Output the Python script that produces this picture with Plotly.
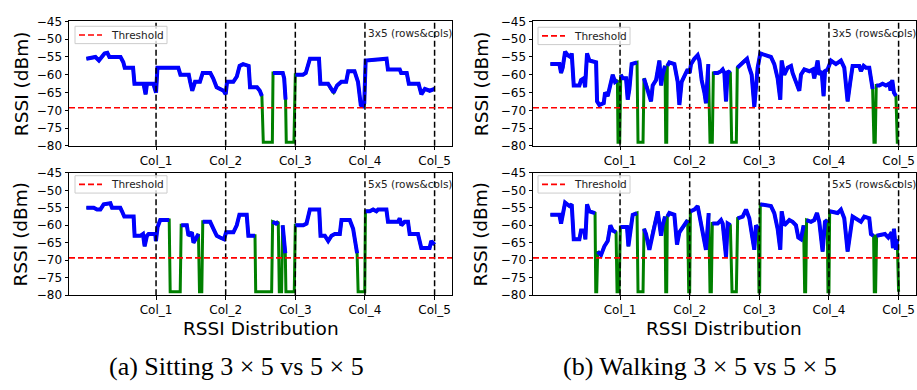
import plotly.graph_objects as go

# ---------------- data (x in column units, RSSI in dBm) ----------------
THRESHOLD = -69.3
COL_TICKS = [1, 2, 3, 4, 5]
COL_LABELS = ["Col_1", "Col_2", "Col_3", "Col_4", "Col_5"]
Y_TICKS = [-80, -75, -70, -65, -60, -55, -50, -45]

sit_3x5 = [(0.00, -55.5), (0.13, -55), (0.18, -56), (0.22, -55), (0.26, -54), (0.30, -53.8),
           (0.33, -55), (0.49, -55), (0.53, -56.5), (0.55, -58), (0.67, -58), (0.69, -62.5),
           (0.82, -62.5), (0.85, -65.5), (0.87, -62.5), (0.96, -62.5), (1.00, -65), (1.02, -58),
           (1.32, -58), (1.35, -60), (1.47, -60), (1.49, -62), (1.52, -64.5), (1.56, -62),
           (1.63, -62), (1.67, -59.5), (1.78, -59.5), (1.82, -61), (1.87, -63.5), (1.97, -64.5),
           (2.00, -65.5), (2.02, -62), (2.11, -62), (2.16, -60.5), (2.20, -57.5), (2.25, -57),
           (2.33, -57.5), (2.35, -63.5), (2.45, -63.5), (2.49, -64.5), (2.52, -66), (2.54, -79),
           (2.67, -79), (2.68, -59.5), (2.82, -59.5), (2.84, -61), (2.86, -67), (2.87, -79),
           (2.98, -79), (3.00, -60), (3.11, -60), (3.15, -59.5), (3.21, -55.5), (3.34, -55.5),
           (3.36, -62.5), (3.47, -62.5), (3.51, -64), (3.55, -65), (3.60, -63), (3.66, -62),
           (3.73, -62), (3.76, -59), (3.85, -59), (3.90, -62), (3.94, -68.5), (3.97, -68.8),
           (3.99, -68), (4.01, -56), (4.31, -55.5), (4.33, -58.5), (4.50, -58.5), (4.52, -59.5),
           (4.60, -59.5), (4.63, -62.5), (4.77, -62.5), (4.81, -65.5), (4.86, -64), (4.93, -64.5),
           (5.00, -64)]

sit_5x5 = [(0.00, -55), (0.105, -55), (0.153, -55.5), (0.20, -55.5), (0.248, -54), (0.344, -53.7),
           (0.368, -55), (0.487, -55), (0.511, -56), (0.544, -57.5), (0.678, -57.5), (0.692, -63),
           (0.774, -63), (0.812, -62.5), (0.836, -66), (0.869, -63), (0.893, -62.5), (0.989, -62.5),
           (0.998, -64.5), (1.022, -60.5), (1.06, -58.5), (1.189, -58.5), (1.203, -79), (1.347, -79),
           (1.361, -60), (1.442, -60), (1.466, -63), (1.514, -62), (1.538, -65), (1.585, -63.5),
           (1.609, -62.5), (1.624, -79), (1.657, -79), (1.671, -59), (1.777, -59), (1.824, -61),
           (1.872, -63), (1.92, -63.5), (1.977, -64), (2.006, -62), (2.111, -62), (2.159, -60),
           (2.197, -57), (2.302, -57), (2.326, -63), (2.421, -63), (2.431, -79), (2.66, -79),
           (2.674, -59), (2.722, -59.5), (2.755, -59), (2.77, -79), (2.803, -79), (2.818, -60),
           (2.856, -68), (2.865, -79), (2.985, -79), (3.00, -60), (3.114, -60), (3.161, -59.5),
           (3.209, -55.5), (3.343, -55.5), (3.362, -63), (3.424, -63), (3.472, -64.5), (3.52, -63),
           (3.567, -62.5), (3.639, -62.5), (3.663, -58.5), (3.782, -58.5), (3.83, -61), (3.887, -68),
           (3.902, -79), (3.997, -79), (4.007, -56), (4.069, -56), (4.117, -55.5), (4.164, -56),
           (4.188, -55.5), (4.308, -55.5), (4.331, -59), (4.475, -59), (4.499, -58), (4.523, -60),
           (4.57, -59), (4.618, -59), (4.642, -62.5), (4.761, -62.5), (4.809, -66.5), (4.928, -66.5),
           (4.952, -64.5), (5.00, -65.5)]

walk_3x5 = [(0.0, -57), (0.129, -57), (0.153, -59.5), (0.177, -58), (0.211, -53.5), (0.249, -54.5),
            (0.287, -55), (0.306, -54), (0.335, -63), (0.416, -63), (0.44, -61.5), (0.478, -61),
            (0.498, -63.5), (0.526, -54), (0.56, -56), (0.656, -56.5), (0.67, -67.5), (0.703, -68.5),
            (0.766, -68), (0.785, -65), (0.823, -66), (0.847, -64), (0.895, -60), (0.928, -62),
            (0.962, -61.5), (0.971, -79), (0.995, -79), (1.01, -60), (1.038, -61), (1.086, -61),
            (1.11, -67), (1.134, -64), (1.167, -57), (1.244, -56.5), (1.258, -79), (1.33, -79),
            (1.344, -61), (1.397, -64), (1.445, -67.5), (1.469, -63), (1.517, -61.5), (1.565, -56),
            (1.589, -63), (1.612, -60), (1.646, -57.5), (1.656, -79), (1.67, -79), (1.679, -57.5),
            (1.708, -56.5), (1.78, -57), (1.828, -62), (1.852, -68.5), (1.885, -62), (1.933, -60),
            (1.971, -58.5), (2.0, -59.5), (2.019, -57), (2.067, -55.5), (2.115, -54.5), (2.139, -56),
            (2.172, -61.5), (2.211, -65), (2.234, -68), (2.268, -57), (2.292, -79), (2.325, -79),
            (2.34, -59.5), (2.402, -59.5), (2.45, -59), (2.474, -58.5), (2.498, -59.5), (2.522, -67.5),
            (2.545, -59), (2.584, -59.5), (2.603, -79), (2.67, -79), (2.684, -58), (2.785, -56),
            (2.823, -55.5), (2.856, -58), (2.89, -60), (2.928, -69), (2.952, -64), (2.976, -58),
            (3.014, -54), (3.167, -55), (3.215, -57), (3.263, -61), (3.301, -67), (3.321, -56),
            (3.359, -60), (3.407, -58), (3.455, -57.5), (3.478, -59.5), (3.526, -62), (3.574, -64.5),
            (3.598, -60), (3.646, -58.5), (3.718, -59), (3.766, -58.5), (3.789, -61), (3.813, -59),
            (3.837, -56), (3.861, -60), (3.895, -59), (3.923, -66), (3.943, -59), (3.981, -58.5),
            (4.029, -56), (4.1, -57), (4.172, -56), (4.22, -58), (4.268, -67.5), (4.306, -62),
            (4.34, -57.5), (4.435, -57.5), (4.459, -59), (4.498, -57.5), (4.531, -58), (4.579, -58),
            (4.627, -64), (4.646, -79), (4.665, -79), (4.679, -63), (4.722, -63), (4.77, -62.5),
            (4.818, -63), (4.866, -62.5), (4.885, -64.5), (4.909, -61.5), (4.933, -65), (4.962, -66),
            (4.981, -79), (5.0, -79)]

walk_5x5 = [(0.0, -57), (0.129, -57), (0.153, -59.5), (0.211, -53.5), (0.273, -54.5), (0.306, -54),
            (0.335, -64), (0.416, -64), (0.44, -61.5), (0.488, -61.5), (0.502, -64), (0.526, -54),
            (0.56, -56), (0.641, -56.5), (0.651, -79), (0.665, -79), (0.679, -67.5), (0.727, -68.5),
            (0.775, -66), (0.823, -64.5), (0.861, -60), (0.895, -61.5), (0.943, -62), (0.957, -79),
            (0.986, -79), (1.005, -60.5), (1.1, -60.5), (1.12, -66), (1.158, -60), (1.182, -57),
            (1.244, -56.5), (1.258, -79), (1.33, -79), (1.344, -61), (1.373, -62.5), (1.421, -67),
            (1.469, -62), (1.541, -56), (1.589, -63), (1.612, -60), (1.646, -57.5), (1.656, -79),
            (1.67, -79), (1.679, -57.5), (1.708, -56.5), (1.78, -57), (1.818, -65.5), (1.852, -62),
            (1.923, -60), (1.971, -58.5), (1.986, -79), (2.0, -79), (2.01, -56), (2.067, -55.5),
            (2.115, -54.5), (2.163, -60), (2.211, -65), (2.234, -67), (2.273, -56.5), (2.292, -79),
            (2.311, -79), (2.325, -59.5), (2.402, -59.5), (2.45, -58.5), (2.474, -59.5), (2.522, -69),
            (2.545, -59.5), (2.584, -60), (2.608, -79), (2.67, -79), (2.689, -58), (2.761, -57.5),
            (2.809, -55.5), (2.856, -58), (2.904, -64), (2.928, -67), (2.952, -60), (2.986, -61),
            (2.995, -79), (3.005, -79), (3.014, -54), (3.167, -54.5), (3.215, -56.5), (3.263, -61),
            (3.301, -67), (3.321, -56), (3.359, -60), (3.431, -58.5), (3.478, -59), (3.526, -60),
            (3.56, -63.5), (3.598, -64), (3.636, -60), (3.651, -79), (3.665, -79), (3.679, -58.5),
            (3.742, -59), (3.789, -58.5), (3.828, -56.5), (3.861, -59), (3.909, -67.5), (3.943, -59),
            (3.976, -58.5), (3.986, -79), (4.0, -79), (4.01, -56), (4.124, -56.5), (4.172, -55.5),
            (4.22, -58), (4.268, -67.5), (4.306, -62), (4.34, -57.5), (4.459, -59), (4.507, -57.5),
            (4.579, -58), (4.603, -62.5), (4.641, -63), (4.651, -79), (4.67, -79), (4.684, -63),
            (4.804, -62.5), (4.852, -63.5), (4.9, -62), (4.919, -66.5), (4.933, -61), (4.962, -67),
            (4.981, -64), (4.99, -79), (5.0, -79)]

# ---------------- layout helpers ----------------
W, H = 917, 390
def px_x(p): return p / W
def px_y(p): return 1 - p / H

FONT = "DejaVu Sans"
panels = [
    dict(series=sit_3x5, ax="", xd=(69, 452), yd=(15, 144), tag="3x5 (rows&cols)", lx=75, ly=20),
    dict(series=walk_3x5, ax="2", xd=(533, 916), yd=(15, 144), tag="3x5 (rows&cols)", lx=538, ly=21),
    dict(series=sit_5x5, ax="3", xd=(69, 452), yd=(172, 299), tag="5x5 (rows&cols)", lx=75, ly=175),
    dict(series=walk_5x5, ax="4", xd=(533, 916), yd=(172, 299), tag="5x5 (rows&cols)", lx=538, ly=175),
]

fig = go.Figure()
shapes, annotations = [], []
layout = dict(width=W, height=H, margin=dict(l=0, r=0, t=0, b=0),
              paper_bgcolor="white", plot_bgcolor="white", showlegend=False)

for p in panels:
    a = p["ax"]
    xs = [u for u, v in p["series"]]
    ys = [v for u, v in p["series"]]
    blue = [v if v > THRESHOLD else None for v in ys]
    xref, yref = "x" + a, "y" + a
    fig.add_trace(go.Scatter(x=xs, y=ys, mode="lines", line=dict(color="#008000", width=3),
                             xaxis=xref, yaxis=yref, hoverinfo="skip"))
    fig.add_trace(go.Scatter(x=xs, y=blue, mode="lines", line=dict(color="#0000ff", width=4),
                             connectgaps=False, xaxis=xref, yaxis=yref, hoverinfo="skip"))
    axis_common = dict(showline=True, mirror=True, linecolor="black", linewidth=1,
                       ticks="outside", ticklen=3.5, tickwidth=1, tickcolor="black",
                       showgrid=False, zeroline=False,
                       tickfont=dict(family=FONT, size=12, color="black"))
    layout["xaxis" + a] = dict(axis_common, domain=[px_x(p["xd"][0]), px_x(p["xd"][1])],
                               range=[-0.25, 5.25], tickvals=COL_TICKS, ticktext=COL_LABELS,
                               anchor=yref)
    layout["yaxis" + a] = dict(axis_common, domain=[px_y(p["yd"][1]), px_y(p["yd"][0])],
                               range=[-80, -45], tickvals=Y_TICKS,
                               ticktext=["\u2212%d" % (-t) for t in Y_TICKS], anchor=xref)
    for c in COL_TICKS:
        shapes.append(dict(type="line", xref=xref, yref=yref + " domain", x0=c, x1=c, y0=0, y1=1,
                           line=dict(color="black", width=1.5, dash="6px,3px"), layer="above"))
    shapes.append(dict(type="line", xref=xref + " domain", yref=yref, x0=0, x1=1,
                       y0=THRESHOLD, y1=THRESHOLD, line=dict(color="#ff0000", width=1.6, dash="6px,3px"),
                       layer="above"))
    # legend box (matplotlib-style)
    lx, ly = p["lx"], p["ly"]
    shapes.append(dict(type="rect", xref="paper", yref="paper",
                       x0=px_x(lx), x1=px_x(lx + 92), y0=px_y(ly + 18), y1=px_y(ly),
                       fillcolor="rgba(255,255,255,0.8)", line=dict(color="#cccccc", width=1), layer="above"))
    shapes.append(dict(type="line", xref="paper", yref="paper",
                       x0=px_x(lx + 4), x1=px_x(lx + 27), y0=px_y(ly + 9), y1=px_y(ly + 9),
                       line=dict(color="#ff0000", width=1.6, dash="6px,3px"), layer="above"))
    annotations.append(dict(text="Threshold", xref="paper", yref="paper", x=px_x(lx + 34), y=px_y(ly + 9),
                            xanchor="left", yanchor="middle", showarrow=False,
                            font=dict(family=FONT, size=10.5, color="#222")))
    annotations.append(dict(text=p["tag"], xref=xref, yref="paper", x=4, xshift=1,
                            y=px_y(p["yd"][0] + 12), xanchor="left", yanchor="middle", showarrow=False,
                            font=dict(family=FONT, size=10.5, color="#222")))

# axis titles
for cx in (21, 481):
    for cy in (80, 236):
        annotations.append(dict(text="RSSI (dBm)", xref="paper", yref="paper", x=px_x(cx), y=px_y(cy),
                                textangle=-90, showarrow=False, xanchor="center", yanchor="middle",
                                font=dict(family=FONT, size=18.5, color="black")))
for cx in (261, 724):
    annotations.append(dict(text="RSSI Distribution", xref="paper", yref="paper", x=px_x(cx), y=px_y(333),
                            showarrow=False, xanchor="center", yanchor="middle",
                            font=dict(family=FONT, size=18.5, color="black")))
# captions
for cx, txt in ((236.5, "(a) Sitting 3 × 5 vs 5 × 5"), (700, "(b) Walking 3 × 5 vs 5 × 5")):
    annotations.append(dict(text=txt, xref="paper", yref="paper", x=px_x(cx), y=px_y(373),
                            showarrow=False, xanchor="center", yanchor="middle",
                            font=dict(family="Liberation Serif", size=26, color="black")))

layout["shapes"] = shapes
layout["annotations"] = annotations
fig.update_layout(**layout)
fig.write_html("out.html")
